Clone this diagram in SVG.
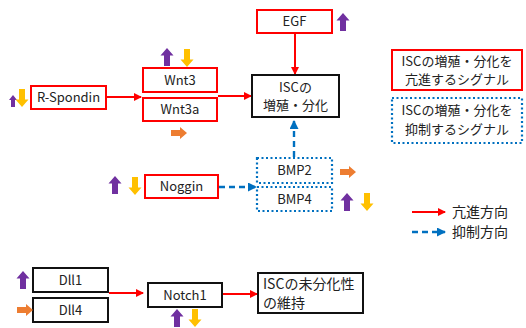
<svg xmlns="http://www.w3.org/2000/svg" width="526" height="328" viewBox="0 0 526 328">
  <style>
    text { font-family: "Noto Sans CJK JP", "Liberation Sans", sans-serif; font-size: 13px; fill: #222; }
    .red { fill: #fff; stroke: #ff0000; stroke-width: 2; }
    .blk { fill: #fff; stroke: #111; stroke-width: 2; }
    .dot { fill: #fff; stroke: #0070c0; stroke-width: 2.2; stroke-dasharray: 2 2.5; }
    .act { stroke: #ff0000; stroke-width: 2; fill: none; }
    .inh { stroke: #0070c0; stroke-width: 2.4; stroke-dasharray: 6 4; fill: none; }
    .up { fill: #7030a0; }
    .down { fill: #ffc000; }
    .side { fill: #ed7d31; }
    .big { font-size: 14px; }
  </style>
  <defs>
    <marker id="hr" markerWidth="8" markerHeight="8" refX="7" refY="4" orient="auto" markerUnits="userSpaceOnUse">
      <path d="M0,0 L8,4 L0,8 Z" fill="#ff0000"/>
    </marker>
    <marker id="hb" markerWidth="9" markerHeight="9" refX="8" refY="4.5" orient="auto" markerUnits="userSpaceOnUse">
      <path d="M0,0 L9,4.5 L0,9 Z" fill="#0070c0"/>
    </marker>
    <path id="arrUp" d="M0,0 L6.5,7.5 L3,7.5 L3,18 L-3,18 L-3,7.5 L-6.5,7.5 Z"/>
    <path id="arrDown" d="M0,18 L6.5,10.5 L3,10.5 L3,0 L-3,0 L-3,10.5 L-6.5,10.5 Z"/>
    <path id="arrRight" d="M16,0 L9,-6 L9,-3 L0,-3 L0,3 L9,3 L9,6 Z"/>
  </defs>

  <!-- connectors -->
  <g id="connectors">
    <line class="act" x1="295" y1="34" x2="295" y2="74" marker-end="url(#hr)"/>
    <line class="act" x1="107" y1="97" x2="141" y2="97" marker-end="url(#hr)"/>
    <line class="act" x1="218" y1="96" x2="251" y2="96" marker-end="url(#hr)"/>
    <line class="inh" x1="294" y1="157" x2="294" y2="121" marker-end="url(#hb)"/>
    <line class="inh" x1="219" y1="187" x2="256" y2="187" marker-end="url(#hb)"/>
    <line class="act" x1="109" y1="293" x2="143" y2="293" marker-end="url(#hr)"/>
    <line class="act" x1="223" y1="294" x2="257" y2="294" marker-end="url(#hr)"/>
    <line class="act" x1="412" y1="212" x2="445" y2="212" marker-end="url(#hr)"/>
    <line class="inh" x1="412" y1="232" x2="445" y2="232" marker-end="url(#hb)"/>
  </g>

  <!-- nodes -->
  <g id="egf">
    <rect class="red" x="257" y="10" width="75" height="23"/>
    <text x="294.5" y="26" text-anchor="middle">EGF</text>
    <use href="#arrUp" class="up" x="343" y="13"/>
  </g>

  <g id="isc-proliferation">
    <rect class="blk" x="252" y="75" width="87" height="42"/>
    <text x="295.5" y="92" text-anchor="middle">ISCの</text>
    <text x="295.5" y="110" text-anchor="middle">増殖・分化</text>
  </g>

  <g id="r-spondin">
    <rect class="red" x="31" y="86" width="75" height="23"/>
    <text x="68.5" y="102" text-anchor="middle">R-Spondin</text>
    <path class="up" d="M13,95 L17,100 L15,100 L15,107 L11,107 L11,100 L9,100 Z"/>
    <use href="#arrDown" class="down" x="22" y="89"/>
  </g>

  <g id="wnt3">
    <rect class="red" x="143" y="68" width="74" height="24"/>
    <text x="180" y="85" text-anchor="middle">Wnt3</text>
    <use href="#arrUp" class="up" x="167" y="48"/>
    <use href="#arrDown" class="down" x="187" y="49"/>
  </g>

  <g id="wnt3a">
    <rect class="red" x="143" y="98" width="74" height="23"/>
    <text x="180" y="114" text-anchor="middle">Wnt3a</text>
    <use href="#arrRight" class="side" x="171" y="133"/>
  </g>

  <g id="noggin">
    <rect class="red" x="145" y="175" width="73" height="23"/>
    <text x="181.5" y="191" text-anchor="middle">Noggin</text>
    <use href="#arrUp" class="up" x="115" y="176"/>
    <use href="#arrDown" class="down" x="135" y="177"/>
  </g>

  <g id="bmp2">
    <rect class="dot" x="257" y="158" width="75" height="25"/>
    <text x="294.5" y="175" text-anchor="middle">BMP2</text>
    <use href="#arrRight" class="side" x="340" y="172"/>
  </g>

  <g id="bmp4">
    <rect class="dot" x="257" y="187" width="75" height="24"/>
    <text x="294.5" y="204" text-anchor="middle">BMP4</text>
    <use href="#arrUp" class="up" x="347" y="193"/>
    <use href="#arrDown" class="down" x="367" y="193"/>
  </g>

  <g id="dll1">
    <rect class="blk" x="33" y="268" width="75" height="24"/>
    <text x="70.5" y="285" text-anchor="middle">Dll1</text>
    <use href="#arrUp" class="up" x="23" y="271"/>
  </g>

  <g id="dll4">
    <rect class="blk" x="33" y="298" width="75" height="24"/>
    <text x="70.5" y="315" text-anchor="middle">Dll4</text>
    <use href="#arrRight" class="side" x="17" y="310"/>
  </g>

  <g id="notch1">
    <rect class="blk" x="148" y="283" width="74" height="24"/>
    <text x="185" y="300" text-anchor="middle">Notch1</text>
    <use href="#arrUp" class="up" x="177" y="309"/>
    <use href="#arrDown" class="down" x="195" y="309"/>
  </g>

  <g id="isc-undifferentiated">
    <rect class="blk" x="258" y="273" width="105" height="40"/>
    <text class="big" x="263" y="289">ISCの未分化性</text>
    <text class="big" x="263" y="308">の維持</text>
  </g>

  <!-- legend -->
  <g id="legend-promote">
    <rect class="red" x="392" y="50" width="130" height="40"/>
    <text x="457" y="66" text-anchor="middle">ISCの増殖・分化を</text>
    <text x="457" y="84" text-anchor="middle">亢進するシグナル</text>
  </g>
  <g id="legend-inhibit">
    <rect class="dot" x="392" y="98" width="130" height="45"/>
    <text x="457" y="115" text-anchor="middle">ISCの増殖・分化を</text>
    <text x="457" y="134" text-anchor="middle">抑制するシグナル</text>
  </g>
  <g id="legend-lines">
    <text class="big" x="452" y="217">亢進方向</text>
    <text class="big" x="452" y="237">抑制方向</text>
  </g>
</svg>
